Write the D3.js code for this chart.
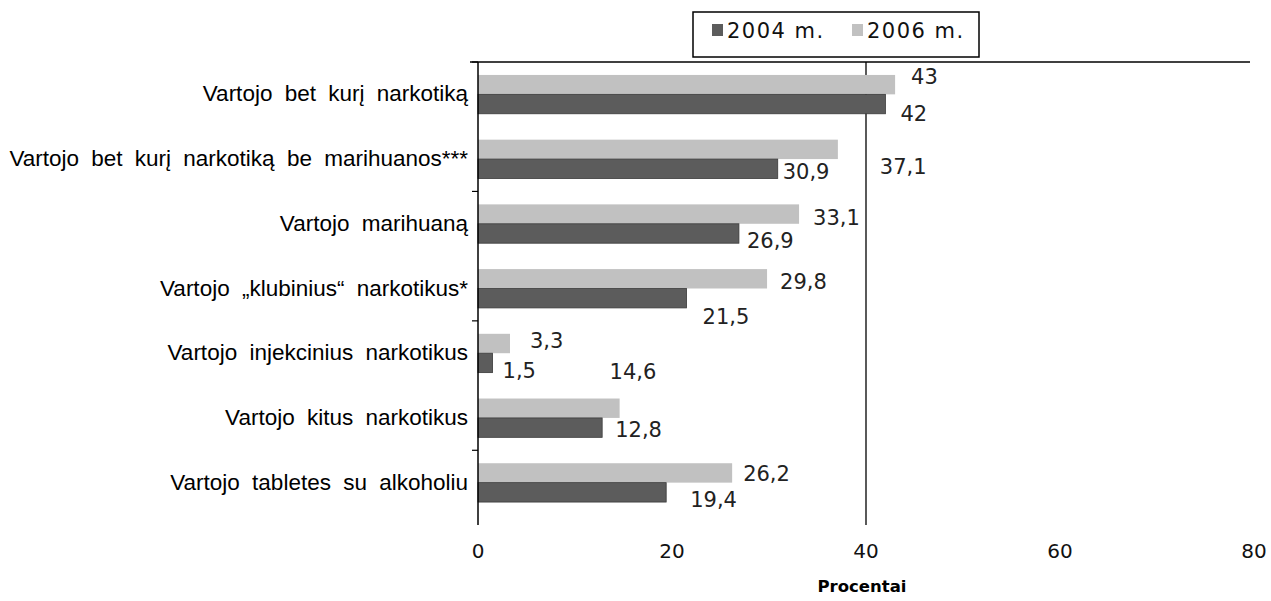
<!DOCTYPE html>
<html>
<head>
<meta charset="utf-8">
<script src="https://cdn.jsdelivr.net/npm/d3@7"></script>
<style>
  body { margin: 0; background: #fff; }
</style>
</head>
<body>
<svg id="plot"></svg>
<script>
// categories (top to bottom)
const categories = [
  "Vartojo bet kurį narkotiką",
  "Vartojo bet kurį narkotiką be marihuanos***",
  "Vartojo marihuaną",
  "Vartojo „klubinius“ narkotikus*",
  "Vartojo injekcinius narkotikus",
  "Vartojo kitus narkotikus",
  "Vartojo tabletes su alkoholiu"
];
const values2004 = [42, 30.9, 26.9, 21.5, 1.5, 12.8, 19.4];
const values2006 = [43, 37.1, 33.1, 29.8, 3.3, 14.6, 26.2];
const seriesNames = ["2004 m.", "2006 m."];
const xTicks = [0, 20, 40, 60, 80];
const axisTitle = "Procentai";

// label nudges copied from the original layout [dx from bar end, dy from bar centre]
const nudge2004 = [[15, 9], [5, 3], [8, 7], [16, 18], [10, 8], [13, 2], [24, 7]];
const nudge2006 = [[16, -8], [42, 17], [14, 3], [13, 3], [20, -3], [-10, -37], [11, 1]];

const W = 1271, H = 601;
const svg = d3.select("#plot").attr("width", W).attr("height", H);

const x = d3.scaleLinear().domain([0, 80]).range([478, 1254]);
const y = d3.scaleBand().domain(categories).range([62, 515])
  .paddingInner(0.4).paddingOuter(0.2);
const ySub = d3.scaleBand().domain(["2006", "2004"]).range([0, y.bandwidth()]);

const dark = "#5c5c5c", light = "#c1c1c1";
const numFont = "DejaVu Sans";

const rows = categories.map((c, i) => ({ c, i, v04: values2004[i], v06: values2006[i] }));

// 40% gridline + top frame line
svg.append("line")
  .attr("x1", x(40)).attr("x2", x(40)).attr("y1", 62).attr("y2", 525)
  .attr("stroke", "#000").attr("stroke-width", 1.3);
svg.append("line")
  .attr("x1", 470).attr("x2", 1250).attr("y1", 62).attr("y2", 62)
  .attr("stroke", "#000").attr("stroke-width", 1.5);

// bars
const g = svg.append("g");
g.selectAll("rect.b06").data(rows).join("rect")
  .attr("x", x(0))
  .attr("y", d => y(d.c) + ySub("2006"))
  .attr("width", d => x(d.v06) - x(0))
  .attr("height", ySub.bandwidth())
  .attr("fill", light);
g.selectAll("rect.b04").data(rows).join("rect")
  .attr("x", x(0))
  .attr("y", d => y(d.c) + ySub("2004"))
  .attr("width", d => x(d.v04) - x(0))
  .attr("height", ySub.bandwidth())
  .attr("fill", dark)
  .attr("stroke", "#3a3a3a").attr("stroke-width", 0.8);

// value labels
const fmt = v => String(v).replace(".", ",");
g.selectAll("text.l06").data(rows).join("text")
  .attr("x", d => x(d.v06) + nudge2006[d.i][0])
  .attr("y", d => y(d.c) + ySub("2006") + ySub.bandwidth() / 2 + nudge2006[d.i][1])
  .attr("dy", "0.36em")
  .attr("font-family", numFont).attr("font-size", 21).attr("fill", "#222")
  .text(d => fmt(d.v06));
g.selectAll("text.l04").data(rows).join("text")
  .attr("x", d => x(d.v04) + nudge2004[d.i][0])
  .attr("y", d => y(d.c) + ySub("2004") + ySub.bandwidth() / 2 + nudge2004[d.i][1])
  .attr("dy", "0.36em")
  .attr("font-family", numFont).attr("font-size", 21).attr("fill", "#222")
  .text(d => fmt(d.v04));

// y axis line, ticks and category labels
svg.append("line")
  .attr("x1", x(0)).attr("x2", x(0)).attr("y1", 62).attr("y2", 525)
  .attr("stroke", "#000").attr("stroke-width", 1.5);
const step = y.step();
svg.selectAll("line.yt").data([0, 2, 4, 6]).join("line")
  .attr("x1", x(0) - 6).attr("x2", x(0))
  .attr("y1", k => 62 + k * step).attr("y2", k => 62 + k * step)
  .attr("stroke", "#000").attr("stroke-width", 1.2);
svg.selectAll("text.cat").data(rows).join("text")
  .attr("x", x(0) - 10)
  .attr("y", d => y(d.c) + y.bandwidth() / 2 - 1)
  .attr("dy", "0.36em")
  .attr("text-anchor", "end")
  .attr("font-family", "Liberation Sans, Arial, sans-serif")
  .attr("font-size", 22.5).attr("word-spacing", 6).attr("fill", "#000")
  .text(d => d.c);

// x tick labels
svg.selectAll("text.xt").data(xTicks).join("text")
  .attr("x", d => x(d)).attr("y", 551).attr("dy", "0.36em")
  .attr("text-anchor", "middle")
  .attr("font-family", numFont).attr("font-size", 20).attr("fill", "#111")
  .text(d => d);
svg.append("text")
  .attr("x", 862).attr("y", 586).attr("dy", "0.36em")
  .attr("text-anchor", "middle")
  .attr("font-family", numFont).attr("font-weight", "bold").attr("font-size", 16.5)
  .text(axisTitle);

// legend
const lg = svg.append("g");
lg.append("rect").attr("x", 693).attr("y", 12).attr("width", 286).attr("height", 45)
  .attr("fill", "#fff").attr("stroke", "#000").attr("stroke-width", 1.5);
const legendItems = [
  { name: seriesNames[0], color: dark, x: 712 },
  { name: seriesNames[1], color: light, x: 852 }
];
lg.selectAll("rect.sw").data(legendItems).join("rect")
  .attr("x", d => d.x).attr("y", 24).attr("width", 11).attr("height", 12)
  .attr("fill", d => d.color);
lg.selectAll("text.lt").data(legendItems).join("text")
  .attr("x", d => d.x + 15).attr("y", 38)
  .attr("font-family", numFont).attr("font-size", 21).attr("letter-spacing", 1.5)
  .attr("fill", "#111")
  .text(d => d.name);
</script>
</body>
</html>
